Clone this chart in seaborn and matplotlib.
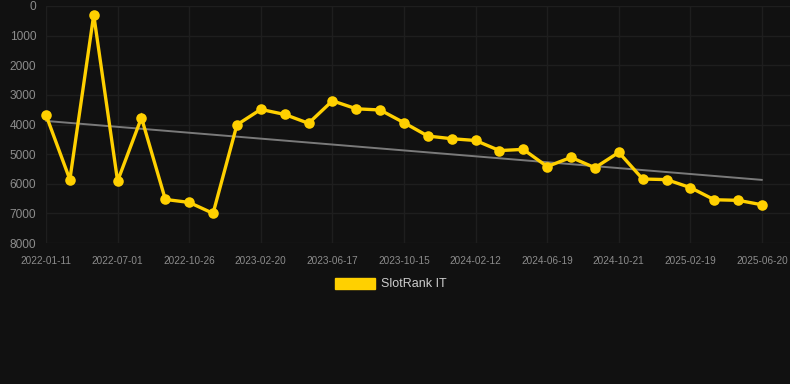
import matplotlib
matplotlib.use("Agg")
import matplotlib.pyplot as plt
from matplotlib.patches import Patch
import seaborn as sns
import numpy as np
import pandas as pd

# ---- data ----
rank_values = [3680, 5860, 300, 5910, 3770, 6530, 6630, 7000, 4010, 3490,
               3660, 3960, 3200, 3470, 3510, 3940, 4390, 4480, 4540, 4880,
               4840, 5420, 5110, 5460, 4940, 5840, 5860, 6130, 6540, 6560, 6710]
tick_labels = ["2022-01-11", "2022-07-01", "2022-10-26", "2023-02-20", "2023-06-17",
               "2023-10-15", "2024-02-12", "2024-06-19", "2024-10-21", "2025-02-19",
               "2025-06-20"]
trend_values = [3880, 5870]
series_name = "SlotRank IT"

sns.set_theme(style="dark")
plt.rcParams['font.family'] = ['Liberation Sans', 'DejaVu Sans']

BG = "#111111"
GOLD = "#FFD000"
GRID = "#1e1e1e"
TXT = "#8c8c8c"

df = pd.DataFrame({"idx": np.arange(len(rank_values)), "rank": rank_values})
trend_df = pd.DataFrame({"idx": [0, len(rank_values) - 1], "rank": trend_values})

fig = plt.figure(figsize=(7.9, 3.84), dpi=100, facecolor=BG)
ax = fig.add_axes([46 / 790, 1 - 243 / 384, (790 - 46) / 790, (243 - 6) / 384])
ax.set_facecolor(BG)

sns.lineplot(data=trend_df, x="idx", y="rank", ax=ax, color="#7a7a7a",
             linewidth=1.4, zorder=2)
sns.lineplot(data=df, x="idx", y="rank", ax=ax, color=GOLD, linewidth=2.4,
             marker="o", markersize=7.6, markeredgewidth=0, zorder=3,
             solid_joinstyle="miter")
for ln in ax.lines:
    ln.set_clip_on(False)

step = (762 - 46) / (len(rank_values) - 1)
ax.set_xlim(0, (790 - 46) / step)
ax.set_ylim(8000, 0)
ax.set_yticks(np.arange(0, 8001, 1000))
ax.set_yticklabels([str(v) for v in range(0, 8001, 1000)])
ax.set_xticks(np.arange(0, len(rank_values), 3))
ax.set_xticklabels(tick_labels)

ax.grid(True, color=GRID, linewidth=1)
for s in ax.spines.values():
    s.set_visible(False)
ax.tick_params(axis="y", length=0, pad=7, labelsize=8.6, labelcolor=TXT)
ax.tick_params(axis="x", length=0, pad=9, labelsize=7.2, labelcolor=TXT)
ax.set_xlabel("")
ax.set_ylabel("")
if ax.get_legend():
    ax.get_legend().remove()

handle = Patch(facecolor=GOLD, edgecolor=GOLD, label=series_name)
leg = fig.legend(handles=[handle], loc="center", bbox_to_anchor=(391 / 790, 1 - 284 / 384),
                 frameon=False, fontsize=9, handlelength=3.2, handleheight=1.0,
                 handletextpad=0.5)
for t in leg.get_texts():
    t.set_color("#cccccc")

fig.savefig("out.png", dpi=100, facecolor=BG)
